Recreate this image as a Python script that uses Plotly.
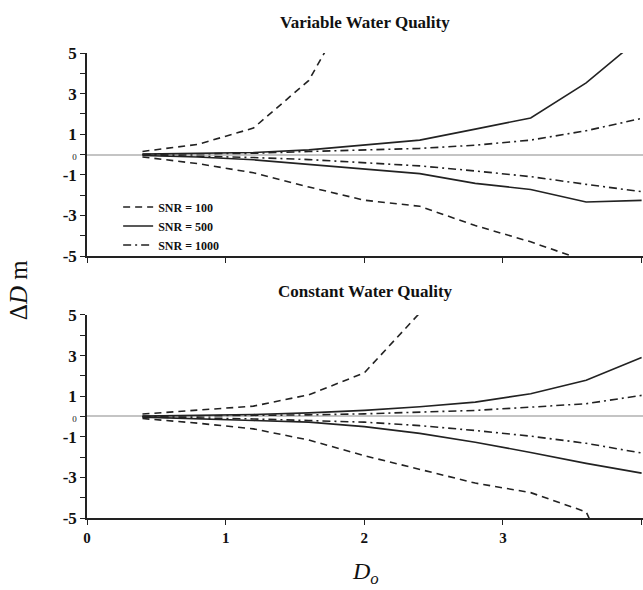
import plotly.graph_objects as go

x = [0.4, 0.8, 1.2, 1.6, 2.0, 2.4, 2.8, 3.2, 3.6, 4.0]

# Variable water quality (top panel): upper / lower error bounds
var_snr100_up = [0.15, 0.5, 1.3, 3.65, 8.5, None, None, None, None, None]
var_snr100_lo = [-0.12, -0.45, -0.9, -1.6, -2.25, -2.55, -3.5, -4.3, -5.25, None]
var_snr500_up = [0.02, 0.05, 0.1, 0.23, 0.46, 0.71, 1.25, 1.8, 3.53, 5.8]
var_snr500_lo = [-0.05, -0.12, -0.26, -0.48, -0.73, -0.94, -1.42, -1.72, -2.34, -2.26]
var_snr1000_up = [0.01, 0.03, 0.06, 0.15, 0.21, 0.3, 0.46, 0.71, 1.17, 1.78]
var_snr1000_lo = [-0.02, -0.08, -0.15, -0.25, -0.4, -0.56, -0.81, -1.09, -1.47, -1.83]

# Constant water quality (bottom panel)
con_snr100_up = [0.12, 0.3, 0.51, 1.07, 2.15, 5.1, None, None, None, None]
con_snr100_lo = [-0.1, -0.33, -0.61, -1.16, -1.93, -2.62, -3.28, -3.75, -4.7, -10.5]
con_snr500_up = [0.02, 0.05, 0.1, 0.18, 0.3, 0.48, 0.71, 1.12, 1.78, 2.9]
con_snr500_lo = [-0.03, -0.1, -0.2, -0.28, -0.5, -0.83, -1.27, -1.77, -2.31, -2.79]
con_snr1000_up = [0.01, 0.03, 0.05, 0.08, 0.13, 0.2, 0.3, 0.46, 0.63, 1.04]
con_snr1000_lo = [-0.02, -0.06, -0.12, -0.2, -0.28, -0.45, -0.69, -0.97, -1.32, -1.8]

series_names = ["SNR = 100", "SNR = 500", "SNR = 1000"]
y_tickvals = [-5, -4, -3, -2, -1, 0, 1, 2, 3, 4, 5]
y_ticktext = ["<b>-5</b>", " ", "<b>-3</b>", " ", "<b>-1</b>",
              "<span style='font-size:9px'>0</span>", "<b>1</b>", " ", "<b>3</b>", " ", "<b>5</b>"]
x_tickvals = [0, 1, 2, 3, 4]
x_ticktext = ["<b>0</b>", "<b>1</b>", "<b>2</b>", "<b>3</b>", "<b>4</b>"]

dashes = ["7px,5px", "solid", "8px,4px,2px,4px"]
col = "#222222"
serif = "Liberation Serif"

fig = go.Figure()

panels = [
    ("x", "y", [(var_snr100_up, var_snr100_lo), (var_snr500_up, var_snr500_lo), (var_snr1000_up, var_snr1000_lo)]),
    ("x2", "y2", [(con_snr100_up, con_snr100_lo), (con_snr500_up, con_snr500_lo), (con_snr1000_up, con_snr1000_lo)]),
]
for pi, (xa, ya, sets) in enumerate(panels):
    for si, (up, lo) in enumerate(sets):
        for bi, yy in enumerate((up, lo)):
            fig.add_trace(go.Scatter(
                x=x, y=yy, xaxis=xa, yaxis=ya, mode="lines",
                line=dict(color=col, width=1.6, dash=dashes[si]),
                name="<b>" + series_names[si] + "</b>", legendgroup=series_names[si],
                showlegend=(pi == 0 and bi == 0), connectgaps=False,
                hoverinfo="skip",
            ))

axis_common = dict(
    showline=True, linecolor="#222222", linewidth=1.5, ticks="outside",
    ticklen=5, tickcolor="#222222", showgrid=False, mirror=False,
)
yfont = dict(family=serif, size=17, color="#111111")
xfont = dict(family=serif, size=15, color="#111111")

fig.update_layout(
    width=643, height=590,
    margin=dict(l=87, r=0, t=53, b=72),
    paper_bgcolor="white", plot_bgcolor="white",
    xaxis=dict(domain=[0, 1], range=[0, 4.01], anchor="y", tickvals=x_tickvals,
               ticktext=[" "] * 5, **axis_common),
    yaxis=dict(domain=[0.5634, 1], range=[-5, 5], anchor="x", tickvals=y_tickvals,
               ticktext=y_ticktext, tickfont=yfont, zeroline=True,
               zerolinecolor="#c4c4c4", zerolinewidth=2, **axis_common),
    xaxis2=dict(domain=[0, 1], range=[0, 4.01], anchor="y2", tickvals=x_tickvals,
                ticktext=x_ticktext, tickfont=xfont, **axis_common),
    yaxis2=dict(domain=[0, 0.4366], range=[-5, 5], anchor="x2", tickvals=y_tickvals,
                ticktext=y_ticktext, tickfont=yfont, zeroline=True,
                zerolinecolor="#c4c4c4", zerolinewidth=2, **axis_common),
    showlegend=True,
    legend=dict(x=0.056, y=0.70, xanchor="left", yanchor="top",
                bgcolor="rgba(0,0,0,0)", tracegroupgap=0,
                font=dict(family=serif, size=12, color="#111111")),
    font=dict(family=serif, color="#111111"),
)

fig.add_annotation(text="<b>Variable Water Quality</b>", xref="paper", yref="paper",
                   x=0.5, y=1.0, yshift=31, xanchor="center", yanchor="middle",
                   showarrow=False, font=dict(family=serif, size=17, color="#111111"))
fig.add_annotation(text="<b>Constant Water Quality</b>", xref="paper", yref="paper",
                   x=0.5, y=0.4366, yshift=23, xanchor="center", yanchor="middle",
                   showarrow=False, font=dict(family=serif, size=17, color="#111111"))
fig.add_annotation(text="Δ<i>D</i> m", xref="paper", yref="paper",
                   x=0, xshift=-69, y=0.49, xanchor="center", yanchor="middle",
                   textangle=-90, showarrow=False,
                   font=dict(family=serif, size=25, color="#111111"))
fig.add_annotation(text="<i>D<sub>o</sub></i>", xref="paper", yref="paper",
                   x=0.5, y=0, yshift=-55, xanchor="center", yanchor="middle",
                   showarrow=False, font=dict(family=serif, size=24, color="#111111"))

fig.write_html("out.html")
